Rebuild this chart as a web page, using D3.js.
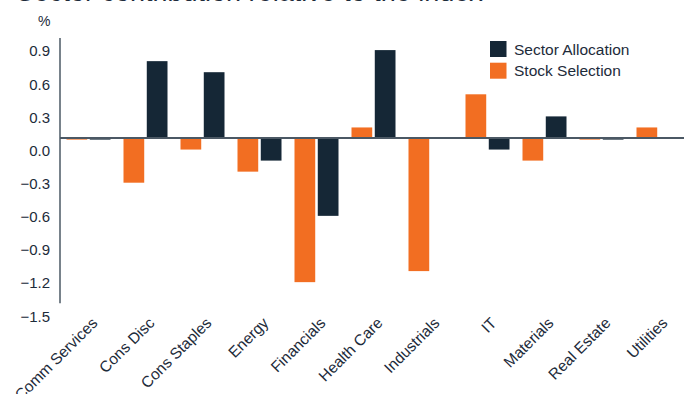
<!DOCTYPE html>
<html>
<head>
<meta charset="utf-8">
<script src="https://cdn.jsdelivr.net/npm/d3@7"></script>
<style>
  html, body { margin: 0; padding: 0; background: #ffffff; }
  svg { display: block; font-family: "Liberation Sans", Arial, sans-serif; }
</style>
</head>
<body>
<svg id="chart" width="684" height="394"></svg>
<script>
// Sector attribution (%), relative to the index
const categories = ["Comm Services", "Cons Disc", "Cons Staples", "Energy", "Financials",
  "Health Care", "Industrials", "IT", "Materials", "Real Estate", "Utilities"];
const stockSelection   = [0.09, -0.3, 0.0, -0.2, -1.2, 0.2, -1.1, 0.5, -0.1, 0.09, 0.2];
const sectorAllocation = [0.09,  0.8, 0.7, -0.1, -0.6, 0.9,  0.1, 0.0,  0.3, 0.09, 0.1];
const yTicks = [0.9, 0.6, 0.3, 0.0, -0.3, -0.6, -0.9, -1.2, -1.5];
const baseValue = 0.105;
const seriesNames = ["Stock Selection", "Sector Allocation"];
const legendOrder = ["Sector Allocation", "Stock Selection"];
const title = "Sector contribution relative to the index";

const colors = { "Sector Allocation": "#152736", "Stock Selection": "#f26e22" };
const textColor = "#1d2b3a";

const svg = d3.select("#chart");

const y = d3.scaleLinear().domain([-1.5, 0.9]).range([315.3, 50.1]);
const x0 = d3.scaleBand().domain(categories).range([60, 687]);
const x1 = d3.scaleBand().domain(seriesNames).range([6.5, 50.5]).paddingInner(0.11);

// title (runs off the top edge)
svg.append("text")
  .attr("x", 16).attr("y", 0.8)
  .attr("font-size", 27).attr("fill", textColor)
  .text(title);

// unit label
svg.append("text")
  .attr("x", 38).attr("y", 26)
  .attr("font-size", 14).attr("fill", textColor)
  .text("%");

// y tick labels
svg.append("g").selectAll("text")
  .data(yTicks).join("text")
  .attr("x", 50).attr("y", d => y(d))
  .attr("dy", "0.42em")
  .attr("text-anchor", "end")
  .attr("font-size", 15).attr("fill", textColor)
  .text(d => d3.format(".1f")(d));

// bars
const rows = categories.map((c, i) => ({
  cat: c,
  vals: [
    { s: "Stock Selection", v: stockSelection[i] },
    { s: "Sector Allocation", v: sectorAllocation[i] }
  ]
}));

const groups = svg.append("g").selectAll("g")
  .data(rows).join("g")
  .attr("transform", d => `translate(${x0(d.cat)},0)`);

groups.selectAll("rect")
  .data(d => d.vals).join("rect")
  .attr("x", d => x1(d.s))
  .attr("width", x1.bandwidth())
  .attr("y", d => Math.min(y(d.v), y(baseValue)))
  .attr("height", d => Math.abs(y(d.v) - y(baseValue)))
  .attr("fill", d => colors[d.s]);

// baseline
svg.append("line")
  .attr("x1", 60).attr("x2", 684)
  .attr("y1", y(baseValue)).attr("y2", y(baseValue))
  .attr("stroke", "#4b5864").attr("stroke-width", 2);

// y axis line
svg.append("line")
  .attr("x1", 60).attr("x2", 60)
  .attr("y1", y(1.01)).attr("y2", y(-1.39))
  .attr("stroke", "#4b5864").attr("stroke-width", 1.5);

// category labels
svg.append("g").selectAll("text")
  .data(categories).join("text")
  .attr("transform", d => `translate(${x0(d) + x0.bandwidth() / 2 + 10},324) rotate(-45)`)
  .attr("text-anchor", "end")
  .attr("font-size", 15.5).attr("fill", textColor)
  .text(d => d);

// legend
const legend = svg.append("g").attr("transform", "translate(490,41)");
legend.selectAll("rect")
  .data(legendOrder).join("rect")
  .attr("x", 0).attr("y", (d, i) => i * 21.7)
  .attr("width", 16.5).attr("height", 16)
  .attr("fill", d => colors[d]);
legend.selectAll("text")
  .data(legendOrder).join("text")
  .attr("x", 24).attr("y", (d, i) => i * 21.7 + 8)
  .attr("dy", "0.36em")
  .attr("font-size", 15.5).attr("fill", textColor)
  .text(d => d);
</script>
</body>
</html>
